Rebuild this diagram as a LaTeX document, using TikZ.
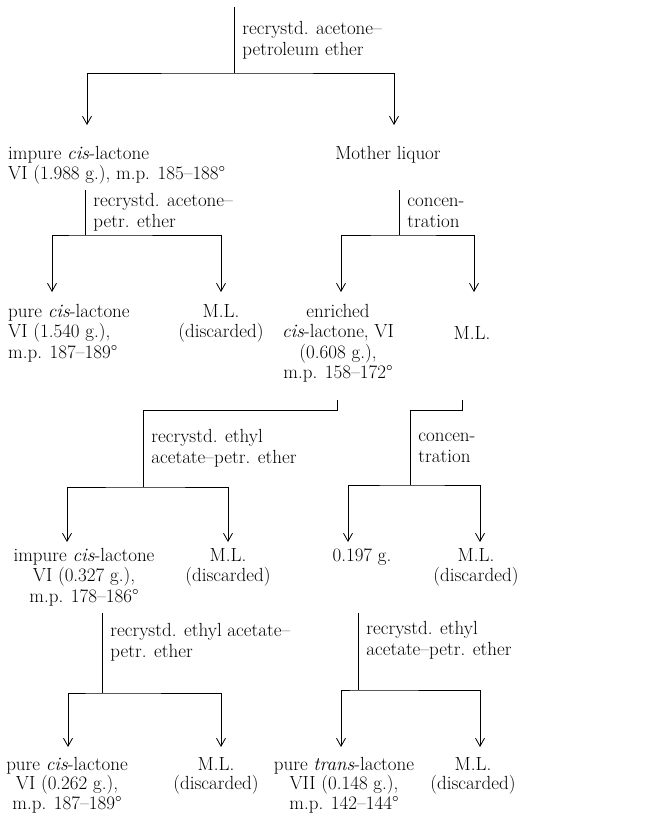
\documentclass[tikz,border=0pt]{standalone}
\usepackage{tikz}
\usetikzlibrary{arrows.meta}
\tikzset{Product/.style={%
    align=center,%
    inner sep=0pt,%
    anchor=north,%
    font=\fontsize{19}{20.5}\selectfont,%
}}
\tikzset{LeftProduct/.style={%
    Product,%
    align=left,%
    anchor=north west,%
}}
\tikzset{LastProduct/.style={%
    Product,%
    font=\fontsize{19}{19.5}\selectfont,%
}}
\tikzset{StepLabel/.style={%
    align=left,%
    inner sep=0pt,%
    anchor=west,%
    xshift=8pt,%
    font=\fontsize{19}{21}\selectfont,%
}}
\tikzset{StemLine/.style={%
    line width=0.8pt,%
}}
\tikzset{SplitBracket/.style={%
    {Straight Barb[length=8pt,width=9pt]}-{Straight Barb[length=8pt,width=9pt]},%
    line width=0.8pt,%
}}
\NewDocumentCommand{\isomer}{m}{\textit{#1}}

\begin{document}
\begin{tikzpicture}[x=1pt,y=-1pt]
    \useasboundingbox (0,0) rectangle (652,814);

    \node[LeftProduct] (impureA) at (8,146) {impure \isomer{cis}-lactone\\VI (1.988 g.), m.p. 185--188\textdegree};
    \node[Product] (mother) at (388,146) {Mother liquor};
    \node[LeftProduct] (pureA) at (8,304) {pure \isomer{cis}-lactone\\VI (1.540 g.),\\m.p. 187--189\textdegree};
    \node[Product] (mlA) at (221,304) {M.L.\\(discarded)};
    \node[Product] (enriched) at (338,304) {enriched\\\isomer{cis}-lactone, VI\\(0.608 g.),\\m.p. 158--172\textdegree};
    \node[Product] (mlB) at (472,326) {M.L.};
    \node[Product] (impureB) at (84,548) {impure \isomer{cis}-lactone\\VI (0.327 g.),\\m.p. 178--186\textdegree};
    \node[Product] (mlC) at (228,548) {M.L.\\(discarded)};
    \node[Product] (residue) at (362,548) {0.197 g.};
    \node[Product] (mlD) at (476,548) {M.L.\\(discarded)};
    \node[LastProduct] (pureB) at (67,757) {pure \isomer{cis}-lactone\\VI (0.262 g.),\\m.p. 187--189\textdegree};
    \node[LastProduct] (mlE) at (216,757) {M.L.\\(discarded)};
    \node[LastProduct] (pureTrans) at (344,757) {pure \isomer{trans}-lactone\\VII (0.148 g.),\\m.p. 142--144\textdegree};
    \node[LastProduct] (mlF) at (473,757) {M.L.\\(discarded)};

    \coordinate (u1) at (234,7);
    \coordinate (j1) at (234,73);
    \coordinate (t1L) at (87,125);
    \coordinate (t1R) at (394,125);
    \coordinate (u2) at (85,190);
    \coordinate (j2) at (85,235);
    \coordinate (t2L) at (52,292);
    \coordinate (t2R) at (221,292);
    \coordinate (u3) at (399,190);
    \coordinate (j3) at (399,235);
    \coordinate (t3L) at (341,292);
    \coordinate (t3R) at (474,292);
    \coordinate (u4) at (337,400);
    \coordinate (j4) at (143,487);
    \coordinate (t4L) at (67,542);
    \coordinate (t4R) at (228,542);
    \coordinate (u5) at (462,400);
    \coordinate (j5) at (410,485);
    \coordinate (t5L) at (348,542);
    \coordinate (t5R) at (480,542);
    \coordinate (u6) at (102,613);
    \coordinate (j6) at (102,693);
    \coordinate (t6L) at (68,747);
    \coordinate (t6R) at (221,747);
    \coordinate (u7) at (358,613);
    \coordinate (j7) at (358,690);
    \coordinate (t7L) at (341,747);
    \coordinate (t7R) at (480,747);

    \draw[StemLine] (u1) -- node[StepLabel]{recrystd. acetone--\\petroleum ether} (j1);
    \draw[StemLine] (u2) -- node[StepLabel]{recrystd. acetone--\\petr. ether} (j2);
    \draw[StemLine] (u3) -- node[StepLabel]{concen-\\tration} (j3);
    \draw[StemLine] (u4) -- ++(0,10) -| node[StepLabel,pos=0.75]{recrystd. ethyl\\acetate--petr. ether} (j4);
    \draw[StemLine] (u5) -- ++(0,10) -| node[StepLabel,pos=0.75]{concen-\\tration} (j5);
    \draw[StemLine] (u6) -- node[StepLabel,pos=0.36]{recrystd. ethyl acetate--\\petr. ether} (j6);
    \draw[StemLine] (u7) -- node[StepLabel,pos=0.35]{recrystd. ethyl\\acetate--petr. ether} (j7);

    \draw[SplitBracket] (t1L) |- (j1) -| (t1R);
    \draw[SplitBracket] (t2L) |- (j2) -| (t2R);
    \draw[SplitBracket] (t3L) |- (j3) -| (t3R);
    \draw[SplitBracket] (t4L) |- (j4) -| (t4R);
    \draw[SplitBracket] (t5L) |- (j5) -| (t5R);
    \draw[SplitBracket] (t6L) |- (j6) -| (t6R);
    \draw[SplitBracket] (t7L) |- (j7) -| (t7R);
\end{tikzpicture}
\end{document}
